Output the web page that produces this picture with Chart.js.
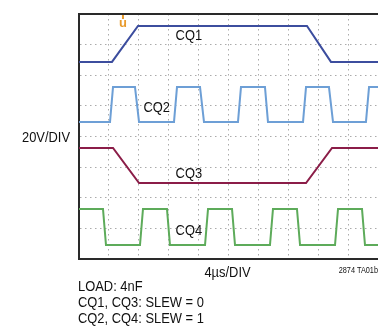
<!DOCTYPE html>
<html>
<head>
<meta charset="utf-8">
<script src="https://cdn.jsdelivr.net/npm/chart.js@4/dist/chart.umd.min.js"></script>
<style>
  html, body { margin: 0; padding: 0; background: #fff; overflow: hidden; }
  #wrap { width: 378px; height: 328px; position: relative; }
</style>
</head>
<body>
<div id="wrap"><canvas id="scope"></canvas></div>
<script>
// Time in µs (4µs per division, 10 divisions), amplitude in screen volts (20V per division, 8 divisions)
const timeTicks = [0, 4, 8, 12, 16, 20, 24, 28, 32, 36, 40];
const voltTicks = [0, 20, 40, 60, 80, 100, 120, 140, 160];

// CQ1: SLEW = 0
const cq1Time  = [0, 4.41, 7.89, 30.50, 33.71, 40];
const cq1Volts = [128.7, 128.7, 152.2, 152.2, 128.7, 128.7];

// CQ2: SLEW = 1
const cq2Time  = [0, 4.15, 4.55, 7.49, 8.03, 12.71, 13.11, 16.19, 16.72, 21.27, 21.67, 24.88, 25.28, 29.97, 30.37, 33.44, 33.98, 38.39, 38.80, 40];
const cq2Volts = [89.5, 89.5, 112.3, 112.3, 89.5, 89.5, 112.3, 112.3, 89.5, 89.5, 112.3, 112.3, 89.5, 89.5, 112.3, 112.3, 89.5, 89.5, 112.3, 112.3];

// CQ3: SLEW = 0
const cq3Time  = [0, 4.55, 8.03, 30.37, 33.85, 40];
const cq3Volts = [72.5, 72.5, 49.6, 49.6, 72.5, 72.5];

// CQ4: SLEW = 1
const cq4Time  = [0, 3.21, 3.61, 8.16, 8.56, 11.77, 12.17, 16.86, 17.26, 20.47, 20.87, 25.55, 25.95, 29.16, 29.57, 34.25, 34.65, 37.86, 38.26, 40];
const cq4Volts = [32.7, 32.7, 9.1, 9.1, 32.7, 32.7, 9.1, 9.1, 32.7, 32.7, 9.1, 9.1, 32.7, 32.7, 9.1, 9.1, 32.7, 32.7, 9.1, 9.1];

// Channel names and where their labels sit (µs, V)
const channelNames = ['CQ1', 'CQ2', 'CQ3', 'CQ4'];
const labelTime  = [14.7, 10.4, 14.7, 14.7];
const labelVolts = [145.6, 98.6, 55.5, 18.3];
const channelColors = ['#3c4d9e', '#6d9fd6', '#8b1d48', '#5dab5a'];

const verticalScale = '20V/DIV';
const horizontalScale = '4µs/DIV';
const figureId = '2874 TA01b';
const notes = ['LOAD: 4nF', 'CQ1, CQ3: SLEW = 0', 'CQ2, CQ4: SLEW = 1'];

const FONT = '"Liberation Sans", Arial, sans-serif';
const SQUEEZE = 0.86; // condensed lettering

// draws text horizontally condensed, anchored at (x, y) by align
function condensedText(ctx, text, x, y, align) {
  ctx.save();
  ctx.translate(x, y);
  ctx.scale(SQUEEZE, 1);
  ctx.textAlign = align;
  ctx.fillText(text, 0, 0);
  ctx.restore();
}

function toPoints(t, v) { return t.map((x, i) => ({ x: x, y: v[i] })); }

const traces = [
  toPoints(cq1Time, cq1Volts),
  toPoints(cq2Time, cq2Volts),
  toPoints(cq3Time, cq3Volts),
  toPoints(cq4Time, cq4Volts)
];

const annotate = {
  id: 'annotate',
  afterDatasetsDraw(chart) {
    const ctx = chart.ctx;
    const xs = chart.scales.x, ys = chart.scales.y;
    ctx.save();
    ctx.fillStyle = '#111';
    ctx.font = '15px ' + FONT;
    ctx.textBaseline = 'middle';
    channelNames.forEach((name, i) => {
      condensedText(ctx, name, xs.getPixelForValue(labelTime[i]), ys.getPixelForValue(labelVolts[i]), 'center');
    });

    // trigger position marker
    const tx = xs.getPixelForValue(cq1Time[1]) + 11;
    ctx.fillStyle = '#e89a2c';
    ctx.font = 'bold 13px ' + FONT;
    ctx.textAlign = 'center';
    ctx.fillText('u', tx, ys.getPixelForValue(154));
    ctx.fillRect(tx - 1, ys.getPixelForValue(160) + 1, 2, 4);
    ctx.restore();
  },
  afterDraw(chart) {
    const ctx = chart.ctx;
    const area = chart.chartArea;
    ctx.save();
    ctx.fillStyle = '#111';
    ctx.font = '15px ' + FONT;
    ctx.textBaseline = 'alphabetic';

    condensedText(ctx, verticalScale, area.left - 9, (area.top + area.bottom) / 2 + 5, 'right');
    condensedText(ctx, horizontalScale, (area.left + area.right) / 2 - 1, area.bottom + 18, 'center');
    notes.forEach((line, i) => {
      condensedText(ctx, line, area.left - 1, area.bottom + 32 + i * 16, 'left');
    });

    ctx.font = '8.5px ' + FONT;
    condensedText(ctx, figureId, chart.width, area.bottom + 14, 'right');
    ctx.restore();
  }
};

const gridStyle = { color: '#ababab', lineWidth: 1, drawTicks: false };
const gridBorder = { display: true, color: '#2a2a2a', width: 2, dash: [1.5, 3.5] };

new Chart(document.getElementById('scope'), {
  type: 'line',
  data: {
    datasets: traces.map((pts, i) => ({
      label: channelNames[i],
      data: pts,
      borderColor: channelColors[i],
      borderWidth: 2,
      pointRadius: 0,
      tension: 0,
      fill: false
    }))
  },
  options: {
    responsive: true,
    maintainAspectRatio: false,
    animation: false,
    layout: { padding: { left: 79, top: 14, right: 0, bottom: 69 } },
    plugins: { legend: { display: false }, tooltip: { enabled: false } },
    scales: {
      x: {
        type: 'linear',
        min: timeTicks[0],
        max: timeTicks[timeTicks.length - 1],
        afterBuildTicks(scale) { scale.ticks = timeTicks.map(v => ({ value: v })); },
        ticks: { display: false },
        grid: gridStyle,
        border: gridBorder
      },
      xTop: {
        type: 'linear',
        position: 'top',
        min: timeTicks[0],
        max: timeTicks[timeTicks.length - 1],
        ticks: { display: false },
        grid: { display: false, drawTicks: false },
        border: { display: true, color: '#2a2a2a', width: 2 }
      },
      y: {
        type: 'linear',
        min: voltTicks[0],
        max: voltTicks[voltTicks.length - 1],
        afterBuildTicks(scale) { scale.ticks = voltTicks.map(v => ({ value: v })); },
        ticks: { display: false },
        grid: gridStyle,
        border: gridBorder
      }
    }
  },
  plugins: [annotate]
});
</script>
</body>
</html>
